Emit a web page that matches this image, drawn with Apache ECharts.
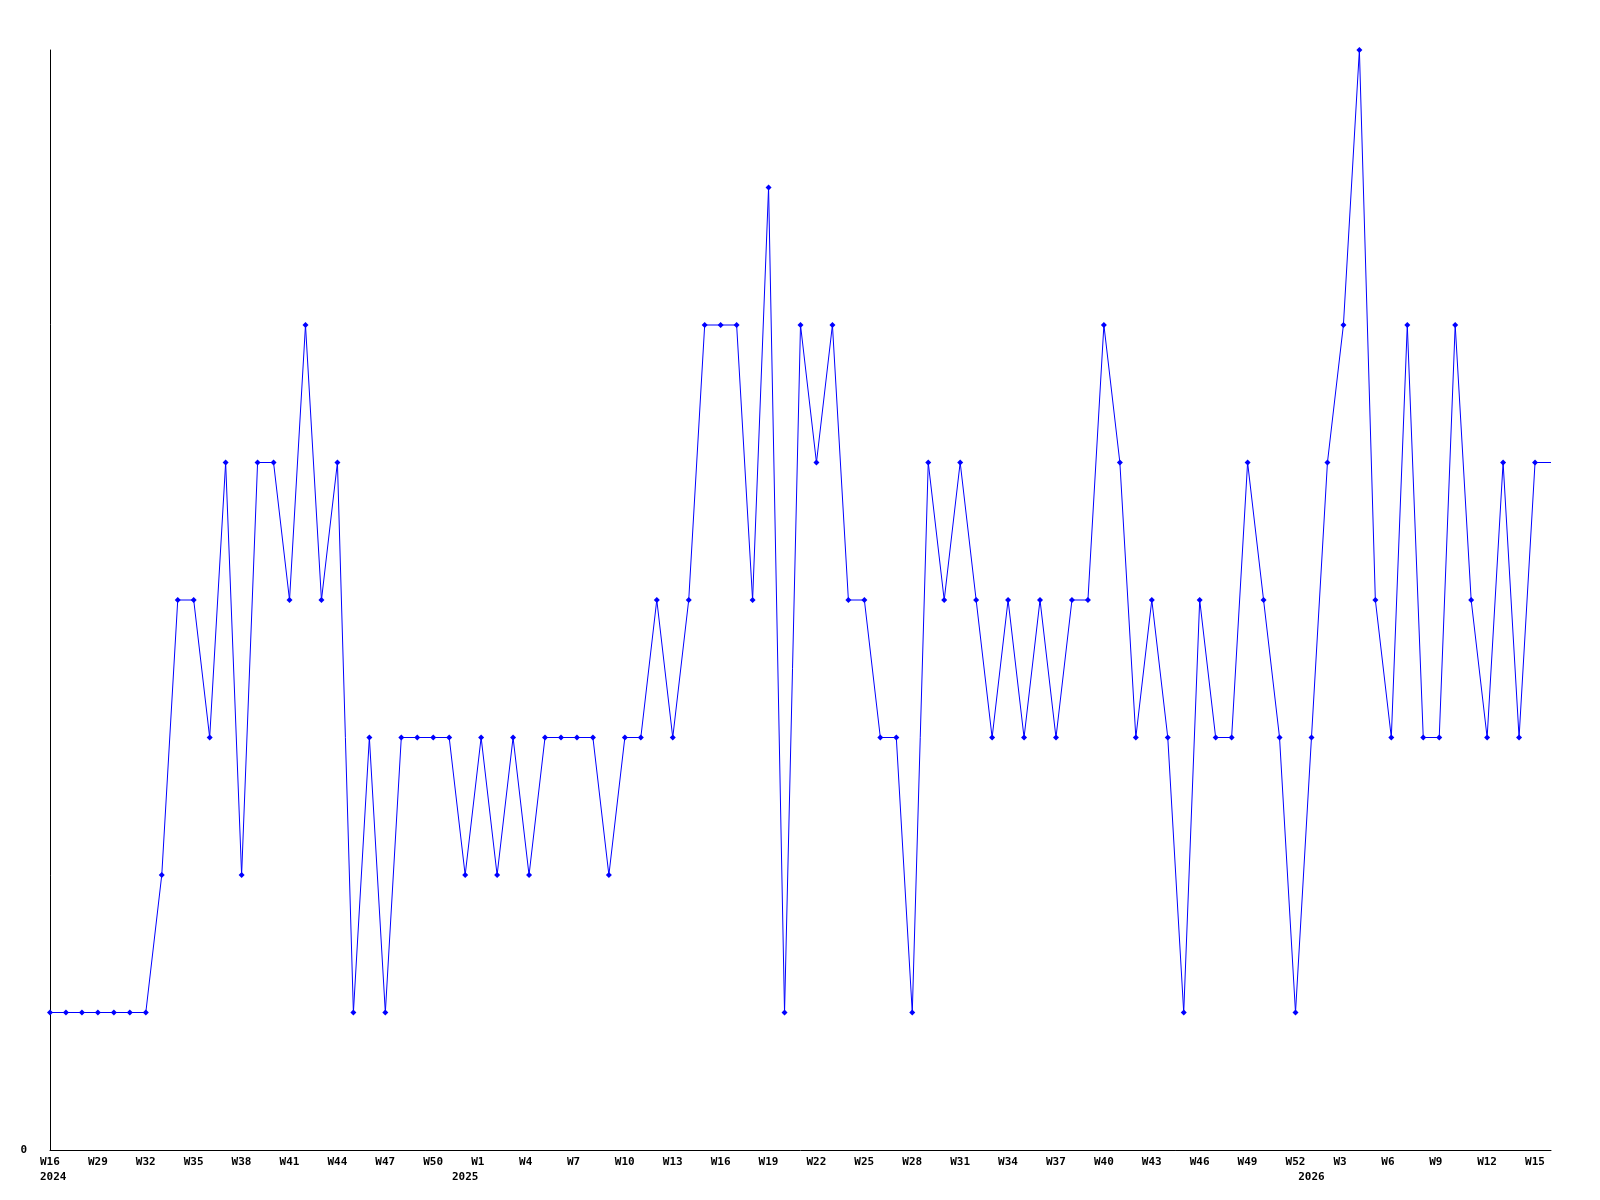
<!DOCTYPE html>
<html>
<head>
<meta charset="utf-8">
<title>Weekly count</title>
<script src="https://cdn.jsdelivr.net/npm/echarts@6/dist/echarts.min.js"></script>
<style>
  html, body { margin: 0; padding: 0; background: #fff; }
  #chart { width: 1600px; height: 1200px; }
</style>
</head>
<body>
<div id="chart"></div>
<script>
// weeks, one point each
const weeks = [
  '2024-W26', '2024-W27', '2024-W28', '2024-W29', '2024-W30', '2024-W31', '2024-W32', '2024-W33', '2024-W34',
  '2024-W35', '2024-W36', '2024-W37', '2024-W38', '2024-W39', '2024-W40', '2024-W41', '2024-W42', '2024-W43',
  '2024-W44', '2024-W45', '2024-W46', '2024-W47', '2024-W48', '2024-W49', '2024-W50', '2024-W51', '2024-W52',
  '2025-W1', '2025-W2', '2025-W3', '2025-W4', '2025-W5', '2025-W6', '2025-W7', '2025-W8', '2025-W9',
  '2025-W10', '2025-W11', '2025-W12', '2025-W13', '2025-W14', '2025-W15', '2025-W16', '2025-W17', '2025-W18',
  '2025-W19', '2025-W20', '2025-W21', '2025-W22', '2025-W23', '2025-W24', '2025-W25', '2025-W26', '2025-W27',
  '2025-W28', '2025-W29', '2025-W30', '2025-W31', '2025-W32', '2025-W33', '2025-W34', '2025-W35', '2025-W36',
  '2025-W37', '2025-W38', '2025-W39', '2025-W40', '2025-W41', '2025-W42', '2025-W43', '2025-W44', '2025-W45',
  '2025-W46', '2025-W47', '2025-W48', '2025-W49', '2025-W50', '2025-W51', '2025-W52',
  '2026-W1', '2026-W2', '2026-W3', '2026-W4', '2026-W5', '2026-W6', '2026-W7', '2026-W8', '2026-W9',
  '2026-W10', '2026-W11', '2026-W12', '2026-W13', '2026-W14', '2026-W15', '2026-W16'
]

const counts = [
  1, 1, 1, 1, 1, 1, 1, 2, 4, 4, 3, 5, 2, 5, 5, 4, 6, 4, 5, 1,
  3, 1, 3, 3, 3, 3, 2, 3, 2, 3, 2, 3, 3, 3, 3, 2, 3, 3, 4, 3,
  4, 6, 6, 6, 4, 7, 1, 6, 5, 6, 4, 4, 3, 3, 1, 5, 4, 5, 4, 3,
  4, 3, 4, 3, 4, 4, 6, 5, 3, 4, 3, 1, 4, 3, 3, 5, 4, 3, 1, 3,
  5, 6, 8, 4, 3, 6, 3, 3, 6, 4, 3, 5, 3, 5, 5
]

// labels under every third week, as printed
const tickLabels = [
  'W16', 'W29', 'W32', 'W35', 'W38', 'W41', 'W44', 'W47', 'W50',
  'W1', 'W4', 'W7', 'W10', 'W13', 'W16', 'W19', 'W22', 'W25', 'W28',
  'W31', 'W34', 'W37', 'W40', 'W43', 'W46', 'W49', 'W52',
  'W3', 'W6', 'W9', 'W12', 'W15'
]
// year row, and the week each year label sits under
const yearLabels = ['2024', '2025', '2026']
const yearLabelIdx = [0, 26, 79]

const labelFont = {
  fontFamily: 'DejaVu Sans Mono',
  fontWeight: 'bold',
  fontSize: 11,
  color: '#000'
}

const chart = echarts.init(document.getElementById('chart'), null, { renderer: 'canvas' })

// last week is still running: no marker on it
const seriesData = counts.map((v, i) => i === counts.length - 1 ? { value: v, symbol: 'none' } : v)

chart.setOption({
  animation: false,
  backgroundColor: '#fff',
  grid: { left: 50, right: 49, top: 50, bottom: 50 },
  xAxis: [{
    type: 'category',
    data: weeks,
    boundaryGap: false,
    axisLine: { show: true, lineStyle: { color: '#000', width: 1 } },
    axisTick: { show: false },
    splitLine: { show: false },
    axisLabel: {
      interval: 2,
      margin: 5,
      lineHeight: 15,
      ...labelFont,
      formatter: (value, index) => '{w|' + tickLabels[index / 3] + '}',
      rich: {
        w: { ...labelFont, width: 20, align: 'left', lineHeight: 15 }
      }
    }
  }, {
    // second row: years
    type: 'category',
    data: weeks,
    boundaryGap: false,
    position: 'bottom',
    offset: 15,
    axisLine: { show: false },
    axisTick: { show: false },
    splitLine: { show: false },
    axisLabel: {
      interval: (index) => yearLabelIdx.indexOf(index) >= 0,
      margin: 5,
      lineHeight: 15,
      ...labelFont,
      formatter: (value, index) => {
        const y = yearLabels[yearLabelIdx.indexOf(index)]
        // first one starts flush with the W16 label above it
        return index === 0 ? '{w|' + y + '}' : y
      },
      rich: {
        w: { ...labelFont, width: 20, align: 'left', lineHeight: 15 }
      }
    }
  }],
  yAxis: {
    type: 'value',
    min: 0,
    max: 8,
    interval: 8,
    axisLine: { show: true, lineStyle: { color: '#000', width: 1 } },
    axisTick: { show: false },
    splitLine: { show: false },
    axisLabel: {
      margin: 23,
      ...labelFont,
      formatter: v => v === 0 ? '0' : ''
    }
  },
  series: [{
    type: 'line',
    xAxisIndex: 0,
    data: seriesData,
    symbol: 'diamond',
    symbolSize: 6,
    showAllSymbol: true,
    lineStyle: { color: '#0000ff', width: 1 },
    itemStyle: { color: '#0000ff' }
  }]
})
</script>
</body>
</html>
